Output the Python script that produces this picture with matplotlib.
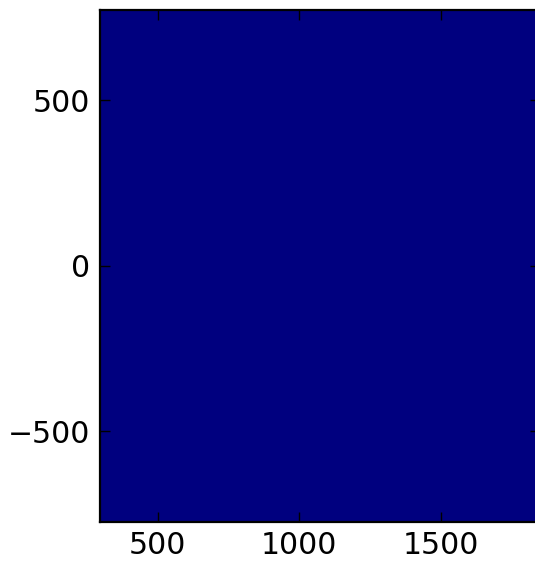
"""Constant field drawn with jet colormap (all values at vmin -> navy)."""

import matplotlib

matplotlib.use("Agg")
import matplotlib.pyplot as plt
import numpy as np

# grid extent
x_edges = [296, 1851]
y_edges = [-773, 773]
field = [[0.0, 0.0], [0.0, 0.0]]
x_ticks = [500, 1000, 1500]
y_ticks = [-500, 0, 500]

W, H = 535, 561
fig = plt.figure(figsize=(W / 100, H / 100), dpi=100)
ax = fig.add_axes([100 / W, (H - 521.7) / H, 440 / W, 511.7 / H])

ax.imshow(np.array(field), cmap="jet", aspect="auto", interpolation="nearest",
          extent=[x_edges[0], x_edges[1], y_edges[0], y_edges[1]], origin="lower")
ax.set_xlim(x_edges)
ax.set_ylim(y_edges)
ax.set_xticks(x_ticks)
ax.set_yticks(y_ticks)
ax.tick_params(direction="in", length=7.5, width=1.0, labelsize=21.5,
               top=True, right=True, pad=7)
for sp in ax.spines.values():
    sp.set_linewidth(1.6)

fig.savefig("out.png", dpi=100)
